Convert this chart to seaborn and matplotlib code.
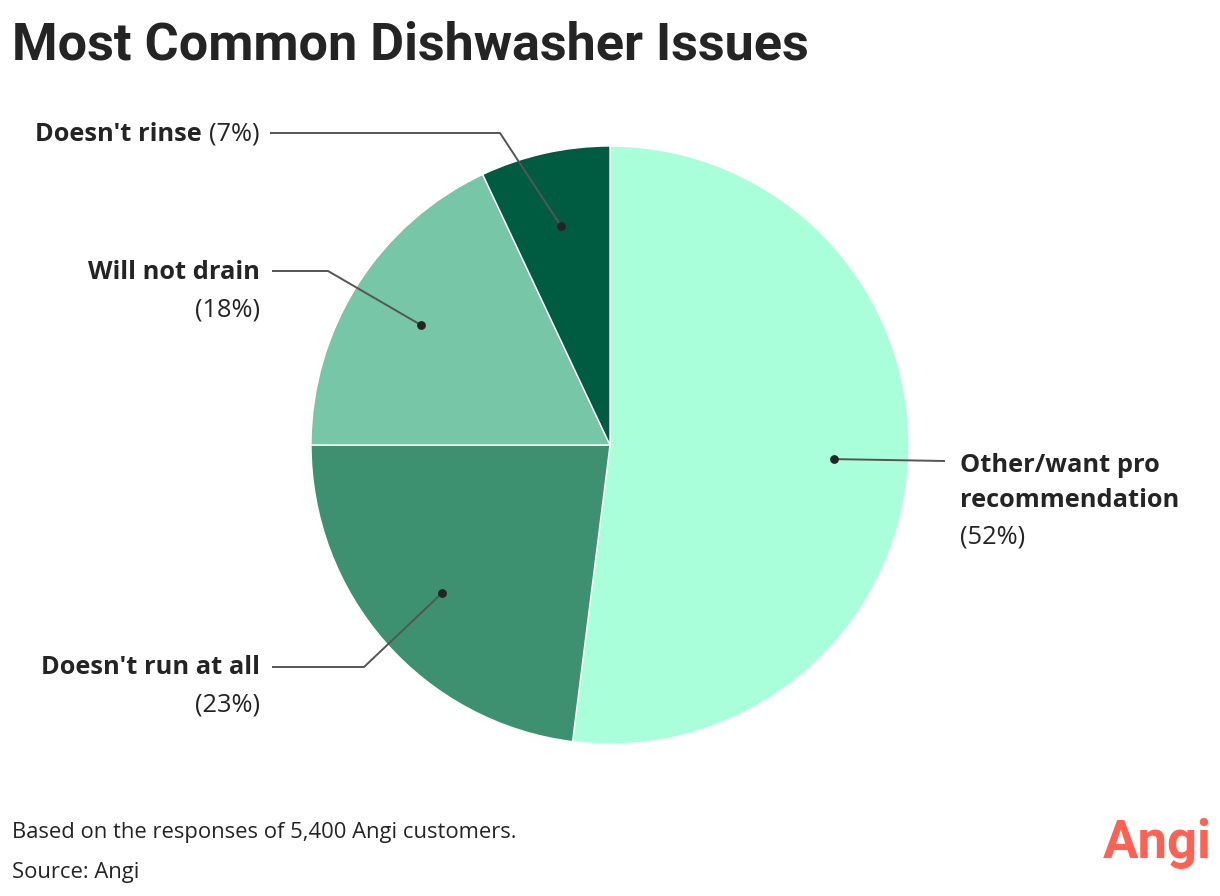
import matplotlib
matplotlib.use("Agg")
import matplotlib.pyplot as plt
import seaborn as sns
import numpy as np

sns.set_theme(style="white")
plt.rcParams['font.family'] = ['Roboto', 'DejaVu Sans']

categories = ["Other/want pro\nrecommendation", "Doesn't run at all", "Will not drain", "Doesn't rinse"]
values = [52, 23, 18, 7]
pct_labels = ["(52%)", "(23%)", "(18%)", "(7%)"]
colors = ["#aaffdb", "#3d9171", "#76c6a7", "#005c40"]

W, H = 1220, 896
fig = plt.figure(figsize=(W / 100, H / 100), dpi=100)
ax = fig.add_axes([0, 0, 1, 1])

def py(y):
    return H - y

cx, cy, R = 610, py(445), 299
wedges, _ = ax.pie(values, colors=colors, startangle=90, counterclock=False,
                   center=(cx, cy), radius=R, frame=True,
                   wedgeprops=dict(edgecolor="white", linewidth=1))
ax.set_xlim(0, W)
ax.set_ylim(0, H)
ax.set_aspect("equal")
ax.axis("off")

dark = "#242424"
line_c = "#555555"
fs = 18.3
lab_font = ['Open Sans', 'DejaVu Sans']

layout = {
    0: dict(elbow=None, end=(945, 461), text=(960, 465), side="left"),
    1: dict(elbow=(364, 667), end=(272, 667), text=(260, 667), side="right"),
    2: dict(elbow=(328, 271), end=(272, 271), text=(260, 272), side="right"),
    3: dict(elbow=(500, 133), end=(270, 133), text=(260, 134), side="right"),
}

fig.canvas.draw()
renderer = fig.canvas.get_renderer()

for i, w in enumerate(wedges):
    mid = np.deg2rad((w.theta1 + w.theta2) / 2)
    dx = cx + 0.75 * R * np.cos(mid)
    dy = cy + 0.75 * R * np.sin(mid)
    L = layout[i]
    pts = [(dx, dy)]
    if L["elbow"] is not None:
        pts.append((L["elbow"][0], py(L["elbow"][1])))
    pts.append((L["end"][0], py(L["end"][1])))
    xs, ys = zip(*pts)
    ax.plot(xs, ys, color=line_c, lw=1.4, zorder=5, solid_capstyle="butt")
    ax.scatter([dx], [dy], s=28, color=dark, zorder=6)

    tx, ty = L["text"]
    if i == 0:
        for k, line in enumerate(categories[i].split("\n")):
            ax.text(tx, py(ty + 35 * k), line, ha="left", va="center", fontsize=fs,
                    fontweight="bold", color=dark, family=lab_font)
        ax.text(tx, py(537), pct_labels[i], ha="left", va="center", fontsize=fs,
                color=dark, family=lab_font)
    elif i == 3:
        t = ax.text(tx, py(ty), pct_labels[i], ha="right", va="center", fontsize=fs,
                    color=dark, family=lab_font)
        bb = t.get_window_extent(renderer)
        ax.text(bb.x0 - 8, py(ty), categories[i], ha="right", va="center",
                fontsize=fs, fontweight="bold", color=dark, family=lab_font)
    else:
        ax.text(tx, py(ty), categories[i], ha="right", va="center", fontsize=fs,
                fontweight="bold", color=dark, family=lab_font)
        ax.text(tx, py(ty + 38), pct_labels[i], ha="right", va="center",
                fontsize=fs, color=dark, family=lab_font)

fig.text(12 / W, 1 - 45 / H, "Most Common Dishwasher Issues", ha="left", va="center",
         fontsize=37.5, fontweight="bold", color=dark)
fig.text(12 / W, 1 - 832 / H, "Based on the responses of 5,400 Angi customers.",
         ha="left", va="center", fontsize=15.8, color=dark, family=lab_font)
fig.text(12 / W, 1 - 872 / H, "Source: Angi", ha="left", va="center",
         fontsize=15.8, color=dark, family=lab_font)
fig.text(1212 / W, 1 - 843 / H, "Angi", ha="right", va="center", fontsize=38,
         fontweight="bold", color="#ff6153")

fig.savefig("out.png", dpi=100)
